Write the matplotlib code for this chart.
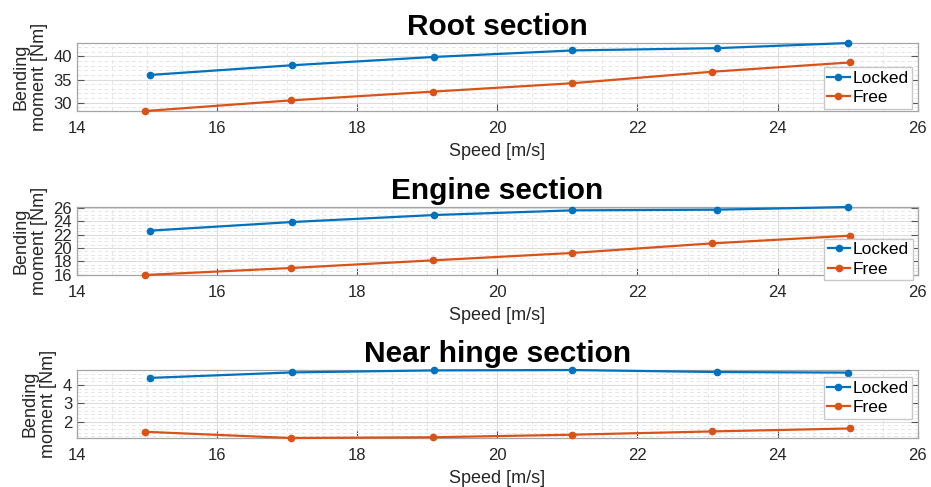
"""Momento flector vs velocidad en tres secciones (Locked vs Free)."""

import matplotlib.pyplot as plt
from matplotlib.ticker import MultipleLocator

plt.rcParams["font.family"] = ["Liberation Sans", "DejaVu Sans"]

BLUE = "#0072BD"
ORANGE = "#D95319"

# datos
locked_speed = [15.04, 17.07, 19.1, 21.07, 23.14, 25.0]
free_speed = [14.97, 17.05, 19.08, 21.06, 23.07, 25.03]

root_locked = [36.0, 38.1, 39.9, 41.3, 41.8, 42.9]
root_free = [28.2, 30.5, 32.4, 34.2, 36.7, 38.7]

engine_locked = [22.6, 23.9, 24.95, 25.65, 25.75, 26.15]
engine_free = [15.95, 17.0, 18.15, 19.25, 20.7, 21.85]

hinge_locked = [4.38, 4.68, 4.79, 4.81, 4.70, 4.67]
hinge_free = [1.44, 1.10, 1.14, 1.28, 1.46, 1.62]

titles = ["Root section", "Engine section", "Near hinge section"]
x_ticks = [14, 16, 18, 20, 22, 24, 26]


def _panel(ax, title, locked, free, major, minor, leg_anchor):
    ax.plot(locked_speed, locked, "-o", color=BLUE, lw=1.6, ms=4.5,
            label="Locked", clip_on=False, zorder=3)
    ax.plot(free_speed, free, "-o", color=ORANGE, lw=1.6, ms=4.5,
            label="Free", clip_on=False, zorder=3)
    ax.set_xlim(14, 26)
    allv = locked + free
    ax.set_ylim(min(allv), max(allv))
    ax.set_xticks(x_ticks)
    ax.yaxis.set_major_locator(MultipleLocator(major))
    ax.yaxis.set_minor_locator(MultipleLocator(minor))
    ax.xaxis.set_minor_locator(MultipleLocator(0.5))
    ax.grid(True, which="major", color="#dcdcdc", lw=0.8)
    ax.grid(True, which="minor", color="#e6e6e6", lw=0.7, ls=(0, (4, 3)))
    ax.set_axisbelow(True)
    ax.tick_params(which="major", direction="in", length=5, width=0.8,
                   colors="#555555", labelcolor="#262626", labelsize=12,
                   right=True, top=False)
    ax.tick_params(axis="x", which="major", pad=7)
    ax.tick_params(which="minor", length=0)
    for sp in ax.spines.values():
        sp.set_color("#a5a5a5")
        sp.set_linewidth(0.9)
    ax.set_title(title, fontsize=21.5, fontweight="bold", pad=6)
    ax.set_xlabel("Speed [m/s]", fontsize=13, color="#262626", labelpad=5)
    ax.set_ylabel("Bending\nmoment [Nm]", fontsize=13, color="#262626",
                  labelpad=4, linespacing=1.1)
    ax.legend(loc="upper right", bbox_to_anchor=leg_anchor, fontsize=12.5,
              frameon=True, fancybox=False, edgecolor="#c8c8c8",
              framealpha=1, borderpad=0.2, labelspacing=0.25,
              handlelength=1.3, handletextpad=0.15, borderaxespad=0)


def main() -> None:
    fig = plt.figure(figsize=(9.31, 4.87), dpi=100)
    left, width, height = 0.0827, 0.903, 0.1396
    bottoms = [0.772, 0.4353, 0.1006]
    data = [(root_locked, root_free, 5, 1, (0.993, 0.647)),
            (engine_locked, engine_free, 2, 0.5, (0.994, 0.532)),
            (hinge_locked, hinge_free, 1, 0.2, (0.993, 0.897))]
    for b, title, (lk, fr, mj, mn, anc) in zip(bottoms, titles, data):
        ax = fig.add_axes([left, b, width, height])
        _panel(ax, title, lk, fr, mj, mn, anc)
    fig.savefig("out.png", dpi=100)
    plt.close(fig)


if __name__ == "__main__":
    main()
